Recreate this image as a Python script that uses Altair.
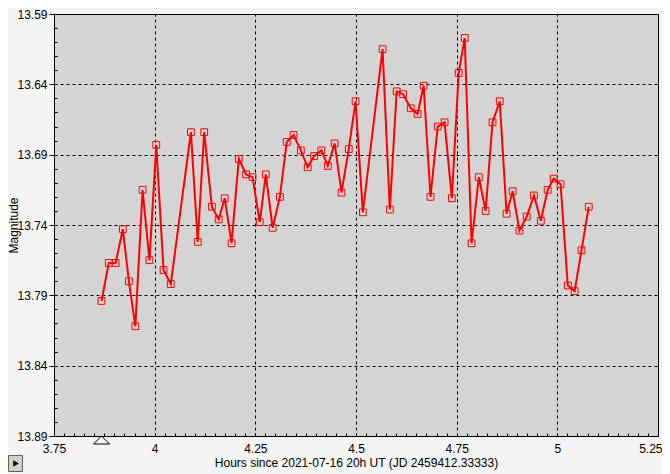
import altair as alt
import pandas as pd

hours = [3.868, 3.886, 3.903, 3.921, 3.936, 3.952, 3.970, 3.987, 4.004, 4.022, 4.040,
         4.090, 4.107, 4.123, 4.142, 4.159, 4.174, 4.191, 4.209, 4.227, 4.243, 4.261,
         4.276, 4.293, 4.311, 4.328, 4.345, 4.363, 4.380, 4.396, 4.414, 4.430, 4.447,
         4.464, 4.482, 4.499, 4.517, 4.566, 4.584, 4.601, 4.617, 4.636, 4.653, 4.668,
         4.685, 4.703, 4.720, 4.738, 4.755, 4.770, 4.787, 4.805, 4.822, 4.839, 4.857,
         4.874, 4.889, 4.906, 4.924, 4.942, 4.959, 4.976, 4.991, 5.008, 5.026, 5.043,
         5.060, 5.078]
mags = [13.794, 13.767, 13.767, 13.743, 13.780, 13.812, 13.715, 13.765, 13.683, 13.772,
        13.782, 13.674, 13.752, 13.674, 13.727, 13.736, 13.721, 13.753, 13.693, 13.704,
        13.706, 13.738, 13.704, 13.742, 13.720, 13.681, 13.676, 13.687, 13.699, 13.691,
        13.687, 13.698, 13.682, 13.717, 13.686, 13.652, 13.731, 13.615, 13.729, 13.645,
        13.647, 13.657, 13.661, 13.641, 13.720, 13.670, 13.667, 13.721, 13.632, 13.607,
        13.753, 13.706, 13.730, 13.667, 13.652, 13.732, 13.716, 13.744, 13.734, 13.719,
        13.737, 13.715, 13.707, 13.711, 13.783, 13.787, 13.758, 13.727]

x_ticks = [3.75, 4.0, 4.25, 4.5, 4.75, 5.0, 5.25]
y_ticks = [13.59, 13.64, 13.69, 13.74, 13.79, 13.84, 13.89]
x_minor = [round(3.75 + 0.025 * i, 3) for i in range(61)]
y_minor = [round(13.59 + 0.01 * i, 2) for i in range(31)]

x_title = "Hours since 2021-07-16 20h UT (JD 2459412.33333)"
y_title = "Magnitude"

df = pd.DataFrame({"hours": hours, "mag": mags})

W, H = 604, 422
FONT = "Liberation Sans"

xs = alt.Scale(domain=[3.75, 5.25], nice=False, zero=False)
ys = alt.Scale(domain=[13.59, 13.89], nice=False, zero=False, reverse=True)

x_axis = alt.Axis(values=x_ticks, labelExpr="datum.value + ''", grid=True,
                  gridColor="black", gridDash=[3, 3], gridOpacity=1, gridWidth=1,
                  tickSize=0, labelPadding=7, labelFontSize=12, labelFont=FONT,
                  labelColor="black", domainColor="black", title=x_title,
                  titleFont=FONT, titleFontSize=12, titleFontWeight="normal",
                  titleColor="black", titlePadding=3, labelFlush=False,
                  labelAlign=alt.condition("datum.value == 5.25", alt.value("right"),
                                           alt.value("center")),
                  labelOffset=alt.condition("datum.value == 5.25", alt.value(4),
                                            alt.value(0)))
y_axis = alt.Axis(values=y_ticks, format=".2f", grid=True, gridColor="black",
                  gridDash=[3, 3], gridOpacity=1, gridWidth=1, tickSize=5,
                  tickColor="black", labelPadding=2, labelFontSize=12, labelFont=FONT,
                  labelColor="black", domainColor="black", title=y_title,
                  titleFont=FONT, titleFontSize=12, titleFontWeight="normal",
                  titleColor="black", titleX=-34, titleY=H / 2, labelFlush=False)

line = alt.Chart(df).mark_line(color="#ff0000", strokeWidth=2).encode(
    x=alt.X("hours:Q", scale=xs, axis=x_axis),
    y=alt.Y("mag:Q", scale=ys, axis=y_axis),
)
pts = alt.Chart(df).mark_point(shape="square", size=46, filled=False,
                               color="#ff0000", strokeWidth=1, opacity=1).encode(
    x=alt.X("hours:Q", scale=xs, axis=None),
    y=alt.Y("mag:Q", scale=ys, axis=None),
)
minor = alt.Chart(df).mark_point(opacity=0).encode(
    x=alt.X("hours:Q", scale=xs,
            axis=alt.Axis(values=x_minor, orient="bottom", offset=-3, tickSize=3,
                          tickColor="black", labels=False, domain=False, grid=False,
                          title=None)),
    y=alt.Y("mag:Q", scale=ys,
            axis=alt.Axis(values=y_minor, orient="left", offset=-3, tickSize=3,
                          tickColor="black", labels=False, domain=False, grid=False,
                          title=None)),
)
tri = alt.Chart(pd.DataFrame({"hours": [hours[0]]})).mark_point(
    shape="M-1,0.5L1,0.5L0,-0.5Z", size=256, filled=False, color="black",
    strokeWidth=1, opacity=1, clip=False).encode(
    x=alt.X("hours:Q", scale=xs, axis=None),
    y=alt.value(H + 4),
)

btn_df = pd.DataFrame({"b": [1]})
btn = alt.Chart(btn_df).mark_rect(fill="#d4d0c8", stroke="#606060", strokeWidth=1,
                                  clip=False).encode(
    x=alt.value(-45.5), x2=alt.value(-31.5), y=alt.value(H + 19.5), y2=alt.value(H + 35.5),
)
btn_arrow = alt.Chart(btn_df).mark_point(shape="triangle-right", filled=True,
                                         color="black", size=40, opacity=1,
                                         clip=False).encode(
    x=alt.value(-38), y=alt.value(H + 27.5),
)

chart = alt.layer(line, pts, minor, tri, btn, btn_arrow).resolve_axis(
    x="independent", y="independent"
).properties(
    width=W, height=H, autosize="none",
    padding={"left": 46, "top": 6, "right": 4, "bottom": 38},
    background="#f4f4f4",
).configure_view(fill="#d4d4d4", stroke="black", strokeWidth=1)

chart.save("out.html", embed_options={"renderer": "svg", "actions": False})
